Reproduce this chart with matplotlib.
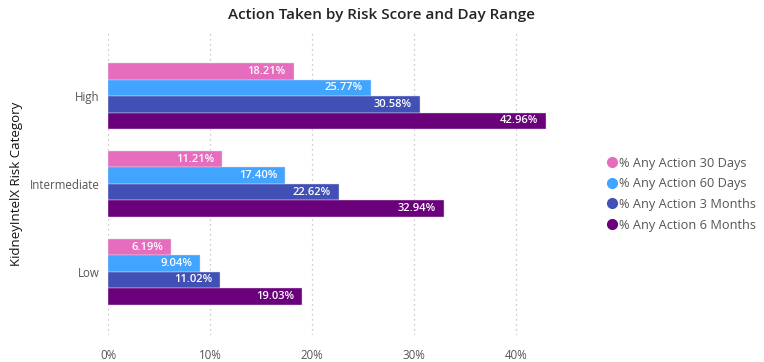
import numpy as np
import matplotlib.pyplot as plt
from matplotlib.lines import Line2D

# dados do grafico
categorias = ["High", "Intermediate", "Low"]
series = ["% Any Action 30 Days", "% Any Action 60 Days",
          "% Any Action 3 Months", "% Any Action 6 Months"]
acao_30d = [18.21, 11.21, 6.19]
acao_60d = [25.77, 17.40, 9.04]
acao_3m = [30.58, 22.62, 11.02]
acao_6m = [42.96, 32.94, 19.03]
xticks = [0, 10, 20, 30, 40]

cores = ["#E66CBE", "#41A4FF", "#4150B4", "#6B007B"]
valores = [acao_30d, acao_60d, acao_3m, acao_6m]

plt.rcParams['font.family'] = ['Open Sans', 'DejaVu Sans']

fig = plt.figure(figsize=(7.64, 3.62), dpi=100)
ax = fig.add_axes([108/764, 1 - 335/362, 459/764, (335 - 32)/362])

y = np.arange(len(categorias))
h = 0.1875
for i, (vals, cor) in enumerate(zip(valores, cores)):
    pos = y - 1.5*h + i*h
    ax.barh(pos, vals, height=h, color=cor, edgecolor="#DDDDEE", linewidth=0.3, zorder=3)
    for p, v in zip(pos, vals):
        ax.text(v - 0.8, p, f"{v:.2f}%", ha="right", va="center",
                color="white", fontsize=8, fontweight="semibold", zorder=4)

ax.set_xlim(0, 45)
ax.set_ylim(2.72, -0.73)
ax.set_yticks(y)
ax.set_yticklabels(categorias, fontsize=8.3, color="#555555")
ax.set_xticks(xticks)
ax.set_xticklabels([f"{t}%" for t in xticks], fontsize=8.3, color="#555555")
ax.tick_params(length=0, pad=10)
ax.tick_params(axis="y", pad=6)
ax.grid(axis="x", linestyle=(0, (1, 3)), color="#BBBBBB", linewidth=0.9, zorder=0)
for s in ax.spines.values():
    s.set_visible(False)

ax.set_ylabel("KidneyIntelX Risk Category", fontsize=9.5, color="#111111", fontweight="medium")
ax.yaxis.set_label_coords(-0.185, 0.5)

fig.text(0.5, 1 - 15/362, "Action Taken by Risk Score and Day Range",
         ha="center", va="center", fontsize=11, color="#252423", fontweight="semibold")

# legenda
handles = [Line2D([0], [0], marker="o", linestyle="", markersize=7,
                  markerfacecolor=c, markeredgecolor=c) for c in cores]
fig.legend(handles, series, loc="center left", bbox_to_anchor=(594/764, 1 - 194/362),
           frameon=False, fontsize=9.2, handletextpad=0.05, labelspacing=0.6,
           labelcolor="#555555", handlelength=1.0)

plt.savefig("out.png", dpi=100)
